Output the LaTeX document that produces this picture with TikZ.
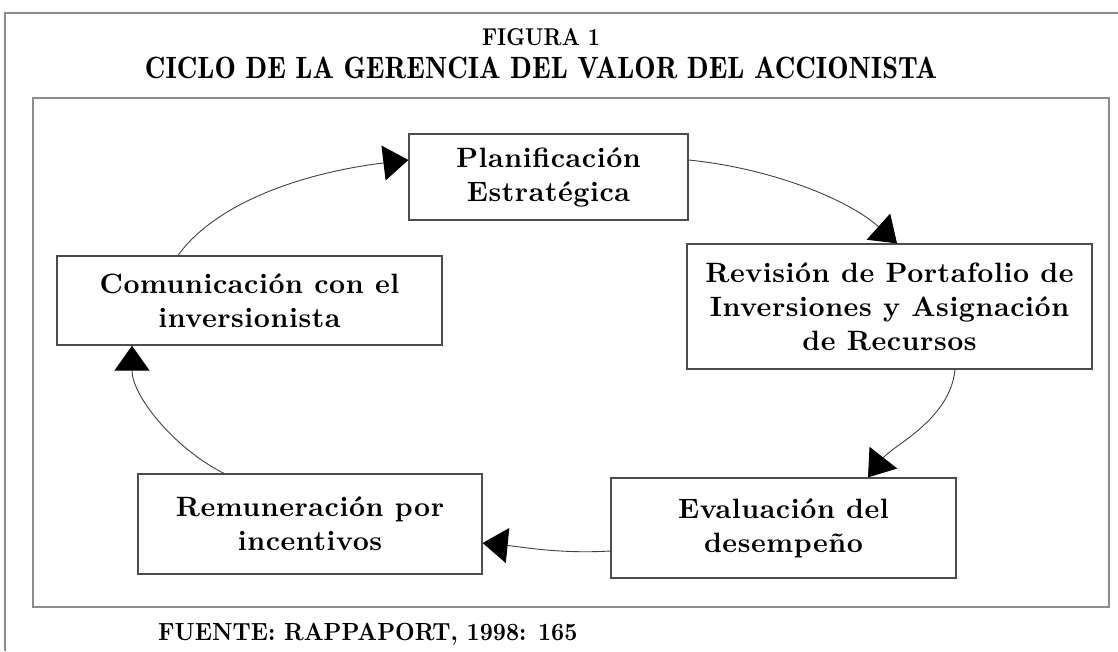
\documentclass[tikz,border=0pt]{standalone}
\usepackage{fontspec}
\newfontfamily\boxfont{lmroman10-bold.otf}[LetterSpace=2]
\newfontfamily\heavyfont{lmroman10-bold.otf}
\newfontfamily\demifont{lmromandemi10-regular.otf}
\usetikzlibrary{arrows.meta}
\begin{document}
\begin{tikzpicture}[x=1pt,y=-1pt,
  box/.style={draw=black!70, line width=1.3pt, fill=white, align=center, inner sep=0pt,
    font=\boxfont\fontsize{28}{34}\selectfont},
  conn/.style={draw=black!75, line width=0.9pt, -{Triangle[length=25pt,width=35pt,color=black]}},
  frame/.style={draw=black!45, line width=2pt}]
\useasboundingbox (0,0) rectangle (1118,651);
% frames
\draw[frame] (1118,13) -- (5,13) -- (5,651);
\draw[frame] (33,98) rectangle (1109,607);
% titles
\node[anchor=base, inner sep=0pt] (fig) at (541,45) {\heavyfont\fontsize{25}{30}\selectfont\resizebox{118pt}{17pt}{FIGURA 1}};
\node[anchor=base, inner sep=0pt] (title) at (541,78) {\demifont\fontsize{30.7}{36}\selectfont\resizebox{792pt}{21.5pt}{CICLO DE LA GERENCIA DEL VALOR DEL ACCIONISTA}};
\node[anchor=base west, inner sep=0pt] (src) at (158,640) {\heavyfont\fontsize{24.8}{30}\selectfont\scalebox{0.92}[1]{FUENTE: RAPPAPORT, 1998: 165}};
% boxes
\node[box, minimum width=279pt, minimum height=86pt] (plan) at (548.5,177) {Planificación\\Estratégica};
\node[box, minimum width=405pt, minimum height=125pt] (rev) at (889.5,306.5) {Revisión de Portafolio de\\Inversiones y Asignación\\de Recursos};
\node[box, minimum width=385pt, minimum height=89pt] (com) at (249.5,300.5) {Comunicación con el\\inversionista};
\node[box, minimum width=344pt, minimum height=100pt] (rem) at (310,524) {Remuneración por\\incentivos};
\node[box, minimum width=345pt, minimum height=100pt] (eval) at (783.5,528) {Evaluación del\\desempeño};
% connectors
\draw[conn] ([xshift=-71.5pt]com.north) .. controls +(40,-55) and +(-100,12) .. ([yshift=17pt]plan.west);
\draw[conn] ([yshift=17pt]plan.east) .. controls +(80,8) and +(-50,-45) .. ([xshift=7.5pt]rev.north);
\draw[conn] ([xshift=65.5pt]rev.south) .. controls +(-5,50) and +(25,-32) .. ([xshift=84.5pt]eval.north);
\draw[conn] ([yshift=-23pt]eval.west) .. controls +(-50,3) and +(40,4) .. ([yshift=-19pt]rem.east);
\draw[conn] ([xshift=-86pt]rem.north) .. controls +(-50,-25) and +(0,50) .. ([xshift=-117.5pt]com.south);
\end{tikzpicture}
\end{document}
